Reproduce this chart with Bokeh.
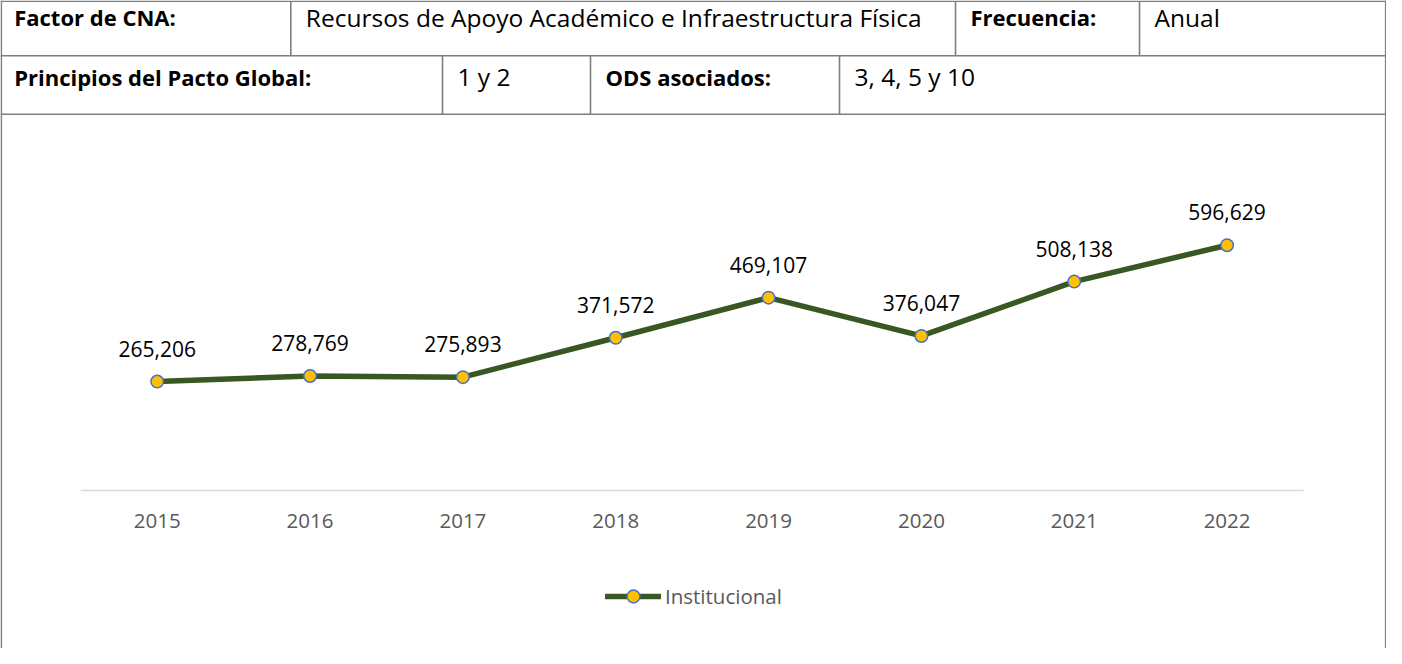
from bokeh.plotting import figure
from bokeh.models import Range1d
from bokeh.core.properties import value
from bokeh.embed import file_html
from bokeh.resources import INLINE

# ---------------- data ----------------
years = [2015, 2016, 2017, 2018, 2019, 2020, 2021, 2022]
values = [265206, 278769, 275893, 371572, 469107, 376047, 508138, 596629]
tick_labels = [str(y) for y in years]
value_labels = [f"{v:,}" for v in values]
series_name = "Institucional"

row1_texts = ["Factor de CNA:", "Recursos de Apoyo Académico e Infraestructura Física",
              "Frecuencia:", "Anual"]
row2_texts = ["Principios del Pacto Global:", "1 y 2", "ODS asociados:", "3, 4, 5 y 10"]
row_bold = [True, False, True, False]

# ---------------- layout constants (pixels in figure) ----------------
W, H = 1386, 648
PA_LEFT, PA_RIGHT = 80.3, 1303.0
PA_TOP, PA_BOTTOM = 202.2, 490.1
YMAX = 700000

s = (PA_RIGHT - PA_LEFT) / len(years)
x_start = years[0] - 0.5 - PA_LEFT / s
x_end = years[-1] + 0.5 + (W - PA_RIGHT) / s
k = (PA_BOTTOM - PA_TOP) / YMAX
y_end = PA_BOTTOM / k
y_start = -(H - PA_BOTTOM) / k

FONT = "Open Sans"
GRID = "#7f7f7f"

p = figure(width=W, height=H, output_backend="svg", toolbar_location=None,
           x_axis_type=None, y_axis_type=None,
           x_range=Range1d(x_start, x_end), y_range=Range1d(y_start, y_end),
           min_border_left=0, min_border_right=0, min_border_top=0, min_border_bottom=0)
p.outline_line_color = None
p.background_fill_color = "white"
p.border_fill_color = "white"
p.extra_x_ranges = {"px": Range1d(0, W)}
p.extra_y_ranges = {"px": Range1d(H, 0)}

# ---------------- table ----------------
ROW_Y = [0.75, 55.3, 113.7]
COL1 = [0.0, 290.3, 955.0, 1139.0]
COL2 = [0.0, 442.0, 590.0, 839.0]
BW = 1.6

p.segment(x0=[0] * 3, x1=[W] * 3, y0=ROW_Y, y1=ROW_Y, line_color=GRID, line_width=BW,
          x_range_name="px", y_range_name="px")
p.segment(x0=[0.8, W - 0.8], x1=[0.8, W - 0.8], y0=[0, 0], y1=[H, H], line_color=GRID,
          line_width=BW, x_range_name="px", y_range_name="px")
p.segment(x0=COL1[1:], x1=COL1[1:], y0=[ROW_Y[0]] * 3, y1=[ROW_Y[1]] * 3, line_color=GRID,
          line_width=BW, x_range_name="px", y_range_name="px")
p.segment(x0=COL2[1:], x1=COL2[1:], y0=[ROW_Y[1]] * 3, y1=[ROW_Y[2]] * 3, line_color=GRID,
          line_width=BW, x_range_name="px", y_range_name="px")

PADX = 15
FIRST_X = 13.7
for texts, cols, mid in ((row1_texts, COL1, 16.5), (row2_texts, COL2, 76.0)):
    for i, (t, c) in enumerate(zip(texts, cols)):
        bold = row_bold[i]
        p.text(x=[FIRST_X if i == 0 else c + PADX], y=[mid], text=[t],
               text_font=value(FONT), text_font_size="22px" if bold else "24.5px",
               text_font_style="bold" if bold else "normal",
               text_color="black", text_align="left", text_baseline="middle",
               x_range_name="px", y_range_name="px")

# ---------------- chart ----------------
p.segment(x0=[years[0] - 0.5], x1=[years[-1] + 0.5], y0=[0], y1=[0],
          line_color="#d9d9d9", line_width=1.5)
p.text(x=years, y=[0] * len(years), text=tick_labels, y_offset=30,
       text_font=value(FONT), text_font_size="20.5px", text_color="#595959",
       text_align="center", text_baseline="middle")

line = p.line(x=years, y=values, line_color="#385723", line_width=5.5,
              line_cap="round", line_join="round", legend_label=series_name)
pts = p.scatter(x=years, y=values, size=12.5, fill_color="#ffc000",
                line_color="#4472c4", line_width=1.5, legend_label=series_name)

p.text(x=years, y=values, text=value_labels, y_offset=-33,
       text_font=value(FONT), text_font_size="21px", text_color="black",
       text_align="center", text_baseline="middle")

lg = p.legend[0]
lg.location = (605, 36)
lg.orientation = "horizontal"
lg.glyph_width = 56
lg.glyph_height = 32
lg.label_height = 32
lg.label_standoff = 4
lg.padding = 0
lg.margin = 0
lg.spacing = 0
lg.border_line_color = None
lg.background_fill_alpha = 0
lg.label_text_font = FONT
lg.label_text_font_size = "20.5px"
lg.label_text_color = "#595959"

open("out.html", "w").write(file_html(p, INLINE))
